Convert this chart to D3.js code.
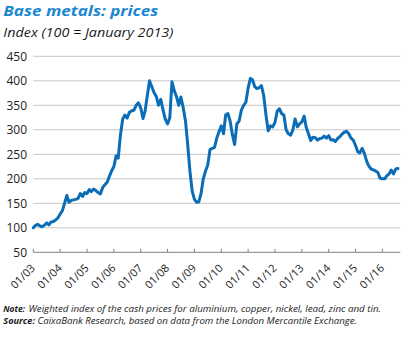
<!DOCTYPE html>
<html><head><meta charset="utf-8">
<script src="https://cdn.jsdelivr.net/npm/d3@7"></script>
<style>
html,body{margin:0;padding:0;background:#fff;}
svg{display:block;font-family:"Open Sans",sans-serif;}
</style></head>
<body><svg id="c" width="420" height="338"></svg>
<script>
// Data: monthly index, Jan 2003 onward (100 = January 2013 per chart title)
const startDate = "2003-01-01";
const values = [
  100,105,107,104,102,105,110,106,112,113,116,120,            // 2003
  128,135,150,166,152,156,157,158,160,170,164,172,            // 2004
  170,178,174,179,176,172,169,182,188,193,205,216,            // 2005
  225,247,242,290,322,330,324,336,339,340,350,355,            // 2006
  345,323,338,370,400,388,376,368,350,362,340,322,            // 2007
  312,325,398,380,368,350,367,345,318,270,215,175,            // 2008
  158,152,153,170,200,216,228,260,262,264,283,296,            // 2009
  308,292,330,333,318,290,270,312,318,340,350,356,            // 2010
  385,405,402,388,384,386,390,370,330,298,308,306,            // 2011
  315,338,343,333,330,300,292,289,300,322,306,312,            // 2012
  316,328,305,292,278,285,284,279,282,283,287,283,            // 2013
  288,279,280,276,282,286,291,295,297,292,283,279,            // 2014
  268,255,253,262,252,236,226,220,218,216,213,201,            // 2015
  200,200,206,210,218,210,220,221                             // 2016
];
const yTicks = [50,100,150,200,250,300,350,400,450];
const xTickLabels = ["01/03","01/04","01/05","01/06","01/07","01/08","01/09","01/10","01/11","01/12","01/13","01/14","01/15","01/16"];
const xTickYears = [2003,2004,2005,2006,2007,2008,2009,2010,2011,2012,2013,2014,2015,2016];
const title = "Base metals: prices";
const subtitle = "Index (100 = January 2013)";
const noteLabel = "Note:";
const noteText = "Weighted index of the cash prices for aluminium, copper, nickel, lead, zinc and tin.";
const sourceLabel = "Source:";
const sourceText = "CaixaBank Research, based on data from the London Mercantile Exchange.";

const start = new Date(startDate + "T00:00:00");
const data = values.map((v,i)=>({date:d3.timeMonth.offset(start,i), value:v}));

const svg = d3.select("#c");
const x = d3.scaleTime()
  .domain([new Date(2003,0,1), new Date(2016,8,1)])
  .range([33.3, 400.3]);
const y = d3.scaleLinear().domain([50,450]).range([252.3,56.3]);

// gridlines
svg.append("g").selectAll("line").data(yTicks.filter(t=>t>50)).join("line")
  .attr("x1",33.3).attr("x2",400.3)
  .attr("y1",d=>y(d)).attr("y2",d=>y(d))
  .attr("stroke","#c6c6c6").attr("stroke-width",1);

// y labels
svg.append("g").selectAll("text").data(yTicks).join("text")
  .attr("x",27).attr("y",d=>y(d)+4.3)
  .attr("text-anchor","end").attr("font-size",12).attr("fill","#222")
  .text(d=>d);

// x axis line + ticks
svg.append("line").attr("x1",33.3).attr("x2",400.3)
  .attr("y1",y(50)).attr("y2",y(50)).attr("stroke","#808080").attr("stroke-width",1);
const tickDates = xTickYears.map(yr=>new Date(yr,0,1));
svg.append("g").selectAll("line").data(tickDates).join("line")
  .attr("x1",d=>x(d)).attr("x2",d=>x(d))
  .attr("y1",y(50)-3.5).attr("y2",y(50))
  .attr("stroke","#808080").attr("stroke-width",1);
svg.append("g").selectAll("text").data(tickDates).join("text")
  .attr("transform",d=>`translate(${x(d)+2.5},${y(50)+16.5}) rotate(-45)`)
  .attr("text-anchor","end").attr("font-size",11).attr("fill","#222")
  .text((d,i)=>xTickLabels[i]);

// line
svg.append("path").datum(data)
  .attr("fill","none").attr("stroke","#0b6db7").attr("stroke-width",3)
  .attr("stroke-linejoin","round").attr("stroke-linecap","round")
  .attr("d", d3.line().x(d=>x(d.date)).y(d=>y(d.value)));

// titles
svg.append("text").attr("x",3.3).attr("y",16).attr("font-size",15)
  .attr("font-weight","bold").attr("font-style","italic").attr("fill","#1b87d0")
  .attr("textLength",155).attr("lengthAdjust","spacingAndGlyphs").text(title);
svg.append("text").attr("x",3.3).attr("y",37).attr("font-size",13)
  .attr("font-style","italic").attr("fill","#1a1a1a")
  .attr("textLength",170).attr("lengthAdjust","spacingAndGlyphs").text(subtitle);

// notes
const notes = [
  {lab:noteLabel, labEnd:25, txt:noteText, txtStart:28.5, txtEnd:381, yy:312.3},
  {lab:sourceLabel, labEnd:35, txt:sourceText, txtStart:37.5, txtEnd:357, yy:324.3}
];
notes.forEach(n=>{
  svg.append("text").attr("x",3.3).attr("y",n.yy).attr("font-size",8.8)
    .attr("font-weight","bold").attr("font-style","italic").attr("fill","#1a1a1a")
    .attr("textLength",n.labEnd-3.3).attr("lengthAdjust","spacingAndGlyphs").text(n.lab);
  svg.append("text").attr("x",n.txtStart).attr("y",n.yy).attr("font-size",8.8)
    .attr("font-style","italic").attr("fill","#1a1a1a")
    .attr("textLength",n.txtEnd-n.txtStart).attr("lengthAdjust","spacingAndGlyphs").text(n.txt);
});
</script></body></html>
